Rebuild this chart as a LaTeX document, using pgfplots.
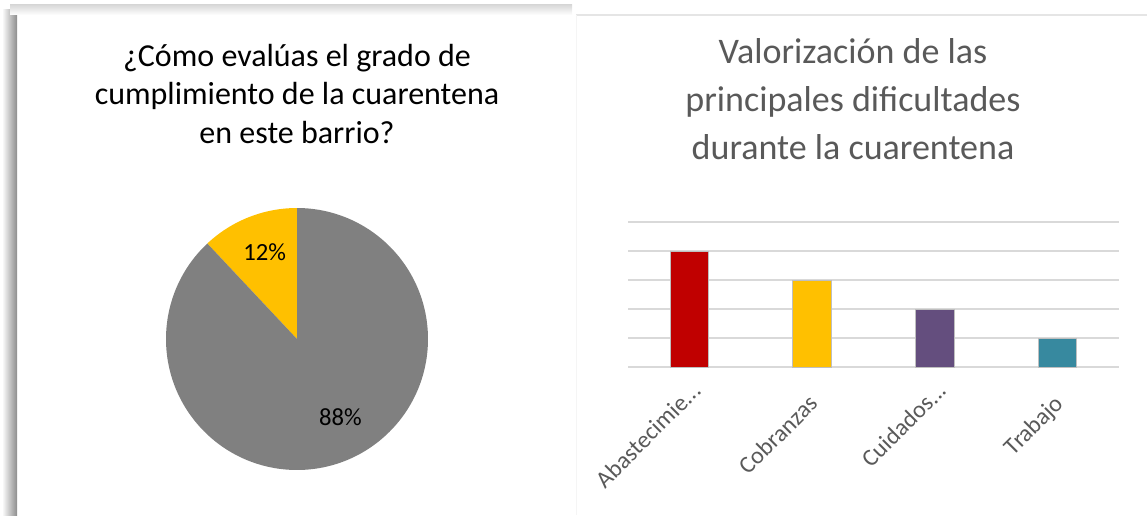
\documentclass[border=0pt]{standalone}
\usepackage{fontspec}
\setmainfont{Carlito}
\usepackage{pgfplots}
\pgfplotsset{compat=1.18}
\definecolor{piegray}{HTML}{808080}
\definecolor{pieyellow}{HTML}{FFC000}
\definecolor{bred}{HTML}{C00000}
\definecolor{byellow}{HTML}{FFC000}
\definecolor{bpurple}{HTML}{644E7E}
\definecolor{bteal}{HTML}{37899F}
\definecolor{txtgray}{HTML}{595959}
\definecolor{gridgray}{HTML}{D9D9D9}
\newcommand{\tdots}{...}
\begin{document}
\begin{tikzpicture}
\useasboundingbox (0pt,0pt) rectangle (860.25pt,386.25pt);
% panel shadows
\shade[left color=white, right color=black!45] (1.5pt,0pt) rectangle (12.75pt,378.75pt);
\shade[bottom color=white, top color=black!15] (7.5pt,375pt) rectangle (429pt,382.5pt);
\draw[black!10, line width=1pt] (432pt,375pt) -- (860.25pt,375pt);
\draw[black!4, line width=0.6pt] (432pt,375pt) -- (432pt,0pt);
% left title
\begin{scope}[every node/.style={anchor=base, font=\fontsize{24}{28}\selectfont}]
\node at (222.75pt,336.2pt) {¿Cómo evalúas el grado de};
\node at (222.75pt,307.5pt) {cumplimiento de la cuarentena};
\node at (222.75pt,278.8pt) {en este barrio?};
\end{scope}
% right title
\begin{scope}[every node/.style={anchor=base, text=txtgray, font=\fontsize{27}{32}\selectfont}]
\node at (639.75pt,338.8pt) {Valorización de las};
\node at (639.75pt,302.5pt) {principales dificultades};
\node at (639.75pt,266.25pt) {durante la cuarentena};
\end{scope}
% pie chart: 12 % and 88 %
\pgfmathsetmacro\endA{90+12*3.6}
\begin{axis}[at={(222.75pt,132pt)}, anchor=center, x=98.25pt, y=98.25pt,
  xmin=-1, xmax=1, ymin=-1, ymax=1, hide axis, clip=false]
  \fill[pieyellow] (axis cs:0,0) -- (axis cs:0,1) arc[start angle=90, end angle=\endA, radius=98.25pt] -- cycle;
  \fill[piegray] (axis cs:0,0) -- (axis cs:{cos(\endA)},{sin(\endA)}) arc[start angle=\endA, end angle=450, radius=98.25pt] -- cycle;
  \node[font=\fontsize{18.5}{22}\selectfont] at (axis cs:-0.247,0.666) {12\%};
  \node[font=\fontsize{18.5}{22}\selectfont] at (axis cs:0.332,-0.593) {88\%};
\end{axis}
% bar chart
\begin{axis}[at={(471pt,111pt)}, anchor=south west, scale only axis,
  width=368.25pt, height=108.75pt,
  xmin=-0.5, xmax=3.5, ymin=0, ymax=5,
  ybar, bar width=28.9pt,
  axis line style={draw=none},
  ytick={0,1,2,3,4,5}, yticklabels={},
  ymajorgrids, grid style={gridgray, line width=1.3pt},
  major tick length=0pt,
  xtick={0,1,2,3},
  xticklabels={{Abastecimie\tdots},{\raisebox{-3.75pt}{Cobranzas}\hspace*{10pt}},{Cuidados\tdots},{\raisebox{-3.75pt}{Trabajo}\hspace*{10pt}}},
  x tick label style={font=\fontsize{18}{21}\selectfont, text=txtgray, inner sep=0pt,
    xshift=10pt, yshift=-18.75pt, rotate=45, anchor=base east},
]
\addplot[fill=bred, draw=black!25, line width=0.6pt, bar shift=0pt] coordinates {(0,4)};
\addplot[fill=byellow, draw=black!25, line width=0.6pt, bar shift=0pt] coordinates {(1,3)};
\addplot[fill=bpurple, draw=black!25, line width=0.6pt, bar shift=0pt] coordinates {(2,2)};
\addplot[fill=bteal, draw=black!25, line width=0.6pt, bar shift=0pt] coordinates {(3,1)};
\end{axis}
\end{tikzpicture}
\end{document}
